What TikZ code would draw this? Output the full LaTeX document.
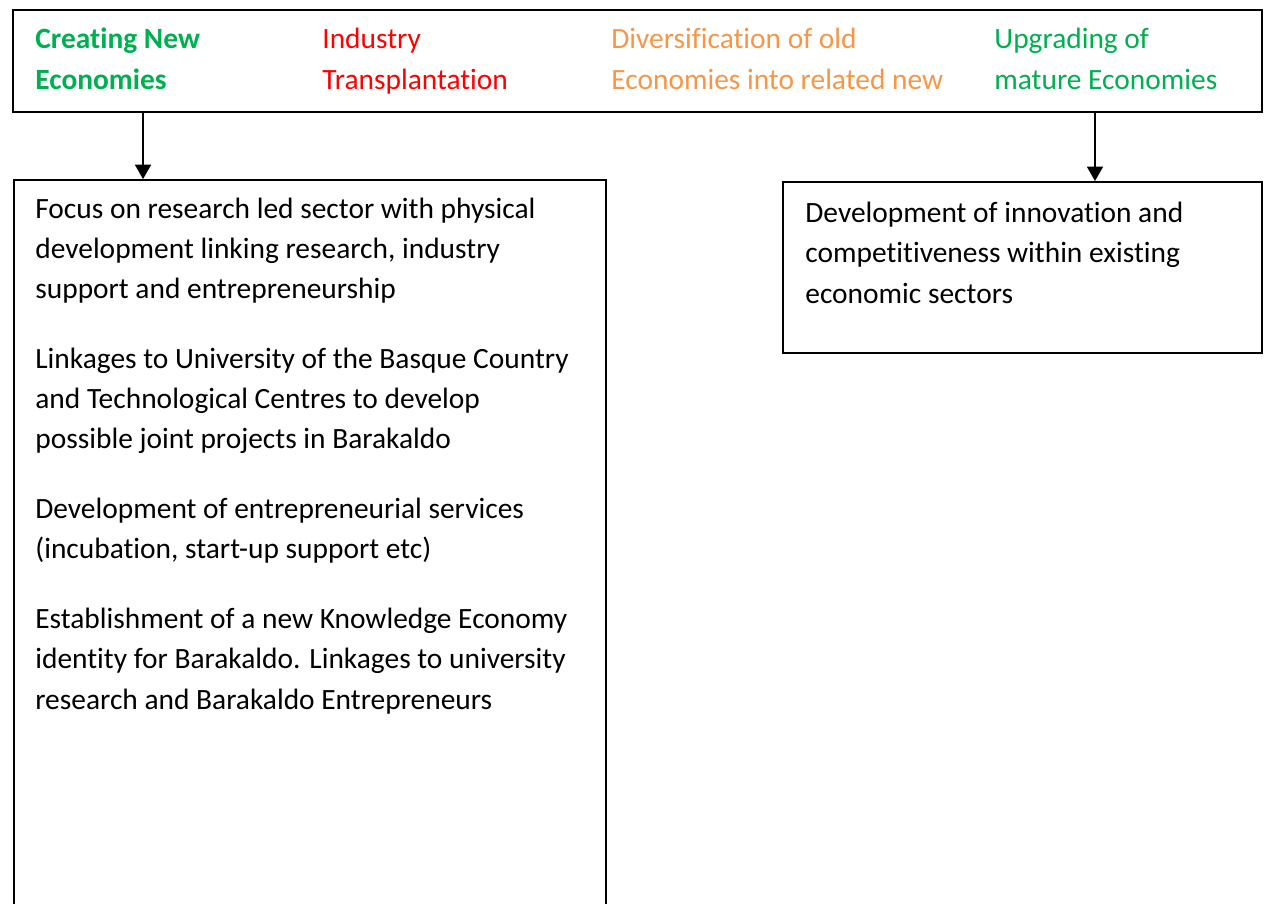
\documentclass[tikz,border=0pt]{standalone}
\usepackage{fontspec}
\setmainfont{Carlito}[Ligatures=NoCommon]
\usepackage{xcolor}
\usepackage{tikz}
\usetikzlibrary{arrows.meta,calc}

\definecolor{ecogreen}{HTML}{00B050}
\definecolor{ecored}{HTML}{FF0000}
\definecolor{ecoorange}{HTML}{F79646}

\begin{document}
\begin{tikzpicture}[x=0.02cm, y=-0.02cm, >={Triangle[width=0.32cm,length=0.29cm]},
    box/.style={draw, rectangle, line width=1.1pt, inner sep=0pt},
    txt/.style={anchor=base west, align=left, inner sep=0pt, font=\fontsize{16.75}{22.8}\selectfont}]
    \clip (0,0) rectangle (1266,903);

    % Top band with the four routes (anchored on their last line)
    \node[box, minimum width=24.98cm, minimum height=2.04cm] (Band) at (637.5,61) {};
    \node[txt, text=ecogreen, font=\fontsize{16.75}{22.8}\selectfont\bfseries] (Route-1) at (35,89) {Creating New\\Economies};
    \node[txt, text=ecored] (Route-2) at (322,89) {Industry\\Transplantation};
    \node[txt, text=ecoorange] (Route-3) at (611,89) {Diversification of old\\Economies into related new};
    \node[txt, text=ecogreen] (Route-4) at (994,89) {Upgrading of\\mature Economies};

    % Left box
    \node[box, minimum width=11.84cm, minimum height=15.6cm] (Left) at (310,570) {};
    \node[txt] (Left-text) at (35,709) {Focus on research led sector with physical\\
        development linking research, industry\\
        support and entrepreneurship\\[0.6cm]
        Linkages to University of the Basque Country\\
        and Technological Centres to develop\\
        possible joint projects in Barakaldo\\[0.6cm]
        Development of entrepreneurial services\\
        (incubation, start-up support etc)\\[0.6cm]
        Establishment of a new Knowledge Economy\\
        identity for Barakaldo. Linkages to university\\
        research and Barakaldo Entrepreneurs};

    % Right box
    \node[box, minimum width=9.58cm, minimum height=3.42cm] (Right) at (1022.5,267.5) {};
    \node[txt] (Right-text) at (805,303) {Development of innovation and\\
        competitiveness within existing\\
        economic sectors};

    % Arrows from the band
    \coordinate (Tap-1) at (143,112);
    \coordinate (Tap-2) at (1095,112);
    \draw[->, line width=1.1pt] (Tap-1) -- (Tap-1 |- Left.north);
    \draw[->, line width=1.1pt] (Tap-2) -- (Tap-2 |- Right.north);
\end{tikzpicture}
\end{document}
